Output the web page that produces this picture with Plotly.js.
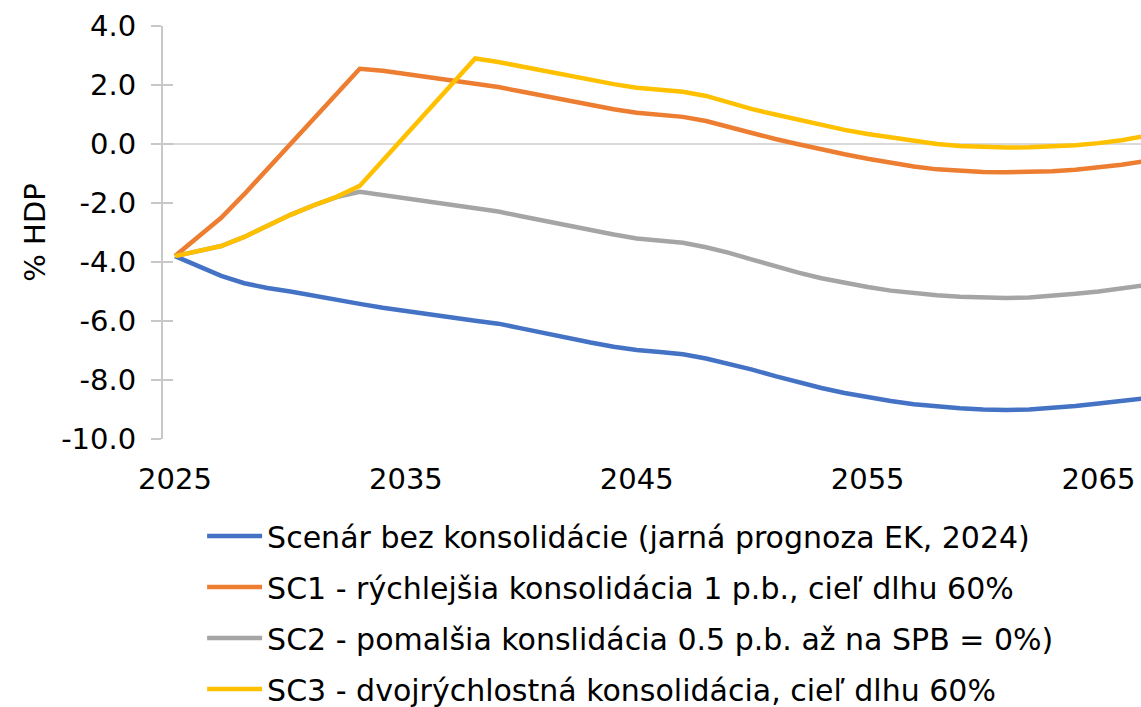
<!DOCTYPE html>
<html>
<head>
<meta charset="utf-8">
<script src="https://cdn.plot.ly/plotly-3.0.1.min.js"></script>
<style>html,body{margin:0;padding:0;background:#fff;}#chart{width:1141px;height:707px;}</style>
</head>
<body>
<div id="chart"></div>
<script>
const years = [2025,2026,2027,2028,2029,2030,2031,2032,2033,2034,2035,2036,2037,2038,2039,2040,2041,2042,2043,2044,2045,2046,2047,2048,2049,2050,2051,2052,2053,2054,2055,2056,2057,2058,2059,2060,2061,2062,2063,2064,2065,2066,2067];

const baseline = [-3.80,-4.15,-4.47,-4.72,-4.88,-5.00,-5.15,-5.29,-5.42,-5.55,-5.67,-5.77,-5.88,-5.99,-6.09,-6.25,-6.42,-6.58,-6.73,-6.87,-6.98,-7.05,-7.13,-7.27,-7.45,-7.65,-7.87,-8.08,-8.27,-8.44,-8.58,-8.71,-8.82,-8.90,-8.96,-9.00,-9.02,-9.00,-8.95,-8.88,-8.80,-8.71,-8.62];

const sc1 = [-3.80,-3.15,-2.50,-1.70,-0.85,0.00,0.85,1.70,2.55,2.48,2.38,2.27,2.15,2.04,1.93,1.78,1.63,1.47,1.32,1.18,1.06,0.99,0.92,0.78,0.58,0.35,0.17,-0.01,-0.19,-0.35,-0.50,-0.64,-0.76,-0.86,-0.92,-0.95,-0.96,-0.95,-0.92,-0.87,-0.80,-0.70,-0.58];

const sc2 = [-3.80,-3.63,-3.46,-3.15,-2.78,-2.40,-2.08,-1.80,-1.62,-1.73,-1.84,-1.95,-2.06,-2.17,-2.29,-2.45,-2.61,-2.77,-2.93,-3.07,-3.20,-3.28,-3.35,-3.50,-3.69,-3.92,-4.15,-4.36,-4.55,-4.71,-4.85,-4.97,-5.06,-5.13,-5.18,-5.21,-5.22,-5.20,-5.15,-5.08,-5.00,-4.90,-4.79];

const sc3 = [-3.80,-3.63,-3.46,-3.15,-2.78,-2.40,-2.08,-1.79,-1.42,-0.56,0.31,1.17,2.04,2.90,2.78,2.63,2.47,2.32,2.17,2.03,1.91,1.83,1.77,1.63,1.40,1.18,1.00,0.82,0.64,0.48,0.34,0.22,0.10,0.00,-0.07,-0.11,-0.12,-0.11,-0.08,-0.04,0.03,0.13,0.27];

const seriesNames = [
  "Scenár bez konsolidácie (jarná prognoza EK, 2024)",
  "SC1 - rýchlejšia konsolidácia 1 p.b., cieľ dlhu 60%",
  "SC2 - pomalšia konslidácia 0.5 p.b. až na SPB = 0%)",
  "SC3 - dvojrýchlostná konsolidácia, cieľ dlhu 60%"
];
const seriesValues = [baseline, sc1, sc2, sc3];
const seriesColors = ["#4472C4", "#ED7D31", "#A5A5A5", "#FFC000"];

const xTickVals = [2025, 2035, 2045, 2055, 2065];
const yTickVals = [4, 2, 0, -2, -4, -6, -8, -10];
const yTickText = ["4.0", "2.0", "0.0", "-2.0", "-4.0", "-6.0", "-8.0", "-10.0"];

const FONT = "DejaVu Sans, Verdana, sans-serif";

const traces = seriesValues.map((vals, i) => ({
  type: "scatter",
  mode: "lines",
  x: years,
  y: vals,
  name: seriesNames[i],
  legendgroup: "g" + i,
  line: {color: seriesColors[i], width: 4.5},
  hoverinfo: "x+y+name"
}));

const layout = {
  width: 1141,
  height: 707,
  margin: {l: 163, r: 0, t: 26, b: 268, autoexpand: false},
  paper_bgcolor: "#ffffff",
  plot_bgcolor: "#ffffff",
  font: {family: FONT, size: 29, color: "#000000"},
  showlegend: true,
  legend: {
    x: 0.04, xanchor: "left",
    y: -0.172, yanchor: "top",
    orientation: "v",
    font: {family: FONT, size: 30, color: "#000000"},
    tracegroupgap: 9,
    itemwidth: 55,
    bgcolor: "rgba(0,0,0,0)"
  },
  xaxis: {
    range: [2024.48, 2066.84],
    tickvals: xTickVals,
    ticktext: xTickVals.map(String),
    showgrid: false,
    zeroline: false,
    showline: false,
    ticks: "",
    ticklabelstandoff: 20,
    tickfont: {family: FONT, size: 29, color: "#000000"}
  },
  yaxis: {
    range: [-10, 4],
    tickvals: yTickVals,
    ticktext: yTickText,
    showgrid: false,
    zeroline: true,
    zerolinecolor: "#d9d9d9",
    zerolinewidth: 2,
    showline: true,
    linecolor: "#c8c8c8",
    linewidth: 2,
    ticks: "outside",
    ticklen: 10,
    tickwidth: 2,
    tickcolor: "#c8c8c8",
    ticklabelstandoff: 9,
    tickfont: {family: FONT, size: 29, color: "#000000"},
    title: {text: "% HDP", font: {family: FONT, size: 29, color: "#000000"}, standoff: 7}
  },
  yaxis2: {
    overlaying: "y",
    anchor: "x",
    side: "left",
    range: [-10, 4],
    tickvals: yTickVals,
    showticklabels: false,
    showgrid: false,
    zeroline: false,
    showline: false,
    ticks: "inside",
    ticklen: 10,
    tickwidth: 2,
    tickcolor: "#c8c8c8"
  }
};

traces.push({type: "scatter", x: [], y: [], yaxis: "y2", showlegend: false, hoverinfo: "skip"});

Plotly.newPlot("chart", traces, layout, {displayModeBar: false, responsive: false});
</script>
</body>
</html>
